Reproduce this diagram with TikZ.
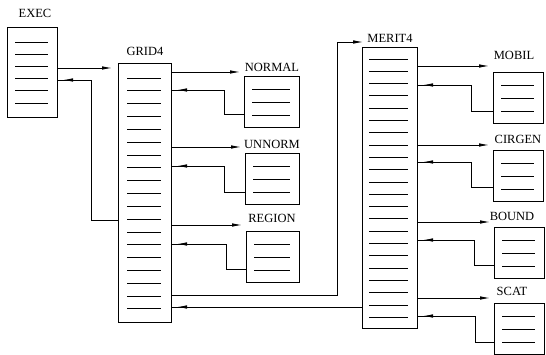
\documentclass[tikz,border=0pt]{standalone}
\usepackage{fontspec}
\setmainfont{Liberation Serif}
\usetikzlibrary{arrows.meta,decorations.markings}
\tikzset{
  box/.style={draw, line width=0.9pt, rectangle, inner sep=0pt, outer sep=0pt},
  lbl/.style={font=\fontsize{12.5}{13}\selectfont, inner sep=0pt},
  inl/.style={line width=0.9pt},
  call/.style={line width=0.8pt, -{Latex[length=10pt,width=3.5pt]}, shorten >=4pt},
  ret/.style={line width=0.8pt, postaction={decorate},
    decoration={markings, mark=at position -6pt with {\arrow{Latex[length=10pt,width=3.5pt]}}}},
}
\begin{document}
\begin{tikzpicture}[x=1pt,y=-1pt]
\useasboundingbox (0,0) rectangle (546,355);
% boxes
\node[box, minimum width=50pt, minimum height=90pt] (exec) at (32,72) {};
\node[box, minimum width=53pt, minimum height=259pt] (grid) at (144.5,192.5) {};
\node[box, minimum width=55pt, minimum height=51pt] (normal) at (271.5,101.5) {};
\node[box, minimum width=54pt, minimum height=51pt] (unnorm) at (272,178.5) {};
\node[box, minimum width=53pt, minimum height=51pt] (region) at (272.5,256.5) {};
\node[box, minimum width=55pt, minimum height=281pt] (merit) at (389.5,187.5) {};
\node[box, minimum width=50pt, minimum height=51pt] (mobil) at (518,97.5) {};
\node[box, minimum width=50pt, minimum height=51pt] (cirgen) at (518,175.5) {};
\node[box, minimum width=50pt, minimum height=51pt] (bound) at (519,252.5) {};
\node[box, minimum width=50pt, minimum height=51pt] (scat) at (519,328.5) {};
% labels
\node[lbl] (execl) at (35,13) {EXEC};
\node[lbl] (gridl) at (145,51) {GRID4};
\node[lbl] (normall) at (272,67) {NORMAL};
\node[lbl] (unnorml) at (272,144) {UNNORM};
\node[lbl] (regionl) at (272,218) {REGION};
\node[lbl] (meritl) at (390,38) {MERIT4};
\node[lbl] (mobill) at (514,55) {MOBIL};
\node[lbl] (cirgenl) at (518,139) {CIRGEN};
\node[lbl] (boundl) at (512,216) {BOUND};
\node[lbl] (scatl) at (512,291) {SCAT};
% inner lines
\foreach \i in {0,...,5}
  \draw[inl] ([xshift=8pt,yshift=-(15+12.2*\i)*1pt]exec.north west) -- ++(33,0);
\foreach \i in {0,...,18}
  \draw[inl] ([xshift=9pt,yshift=-(15+12.83*\i)*1pt]grid.north west) -- ++(34,0);
\foreach \i in {0,...,21}
  \draw[inl] ([xshift=7pt,yshift=-(12+12.3*\i)*1pt]merit.north west) -- ++(39,0);
\foreach \b in {normal,unnorm,region,mobil,cirgen,bound,scat}
  \foreach \i in {0,1,2}
    \draw[inl] ([xshift=8pt,yshift=-(13+13*\i)*1pt]\b.north west) -- ([xshift=-9pt,yshift=-(13+13*\i)*1pt]\b.north east);
% EXEC <-> GRID4
\draw[call, shorten >=6pt] (exec.east |- 0,68) -- (grid.west |- 0,68);
\draw[ret] (grid.west |- 0,220) -| (91,80) -- (exec.east |- 0,80);
% GRID4 <-> subroutines
\draw[call] (grid.east |- 0,72) -- (normal.west |- 0,72);
\draw[ret] (normal.west |- 0,114) -| (224,90) -- (grid.east |- 0,90);
\draw[call] (grid.east |- 0,147) -- (unnorm.west |- 0,147);
\draw[ret] (unnorm.west |- 0,192) -| (224,166) -- (grid.east |- 0,166);
\draw[call] (grid.east |- 0,225) -- (region.west |- 0,225);
\draw[ret] (region.west |- 0,269) -| (226,244) -- (grid.east |- 0,244);
% GRID4 <-> MERIT4
\draw[call] (grid.east |- 0,295) -| (337,42) -- (meritl.west |- 0,42);
\draw[ret] (merit.west |- 0,307) -- (grid.east |- 0,307);
% MERIT4 <-> subroutines
\draw[call] (merit.east |- 0,66) -- (mobil.west |- 0,66);
\draw[ret] (mobil.west |- 0,111) -| (471,85) -- (merit.east |- 0,85);
\draw[call] (merit.east |- 0,145) -- (cirgen.west |- 0,145);
\draw[ret] (cirgen.west |- 0,187) -| (471,162) -- (merit.east |- 0,162);
\draw[call] (merit.east |- 0,222) -- (bound.west |- 0,222);
\draw[ret] (bound.west |- 0,265) -| (474,240) -- (merit.east |- 0,240);
\draw[call] (merit.east |- 0,298) -- (scat.west |- 0,298);
\draw[ret] (scat.west |- 0,342) -| (475,316) -- (merit.east |- 0,316);
\end{tikzpicture}
\end{document}
